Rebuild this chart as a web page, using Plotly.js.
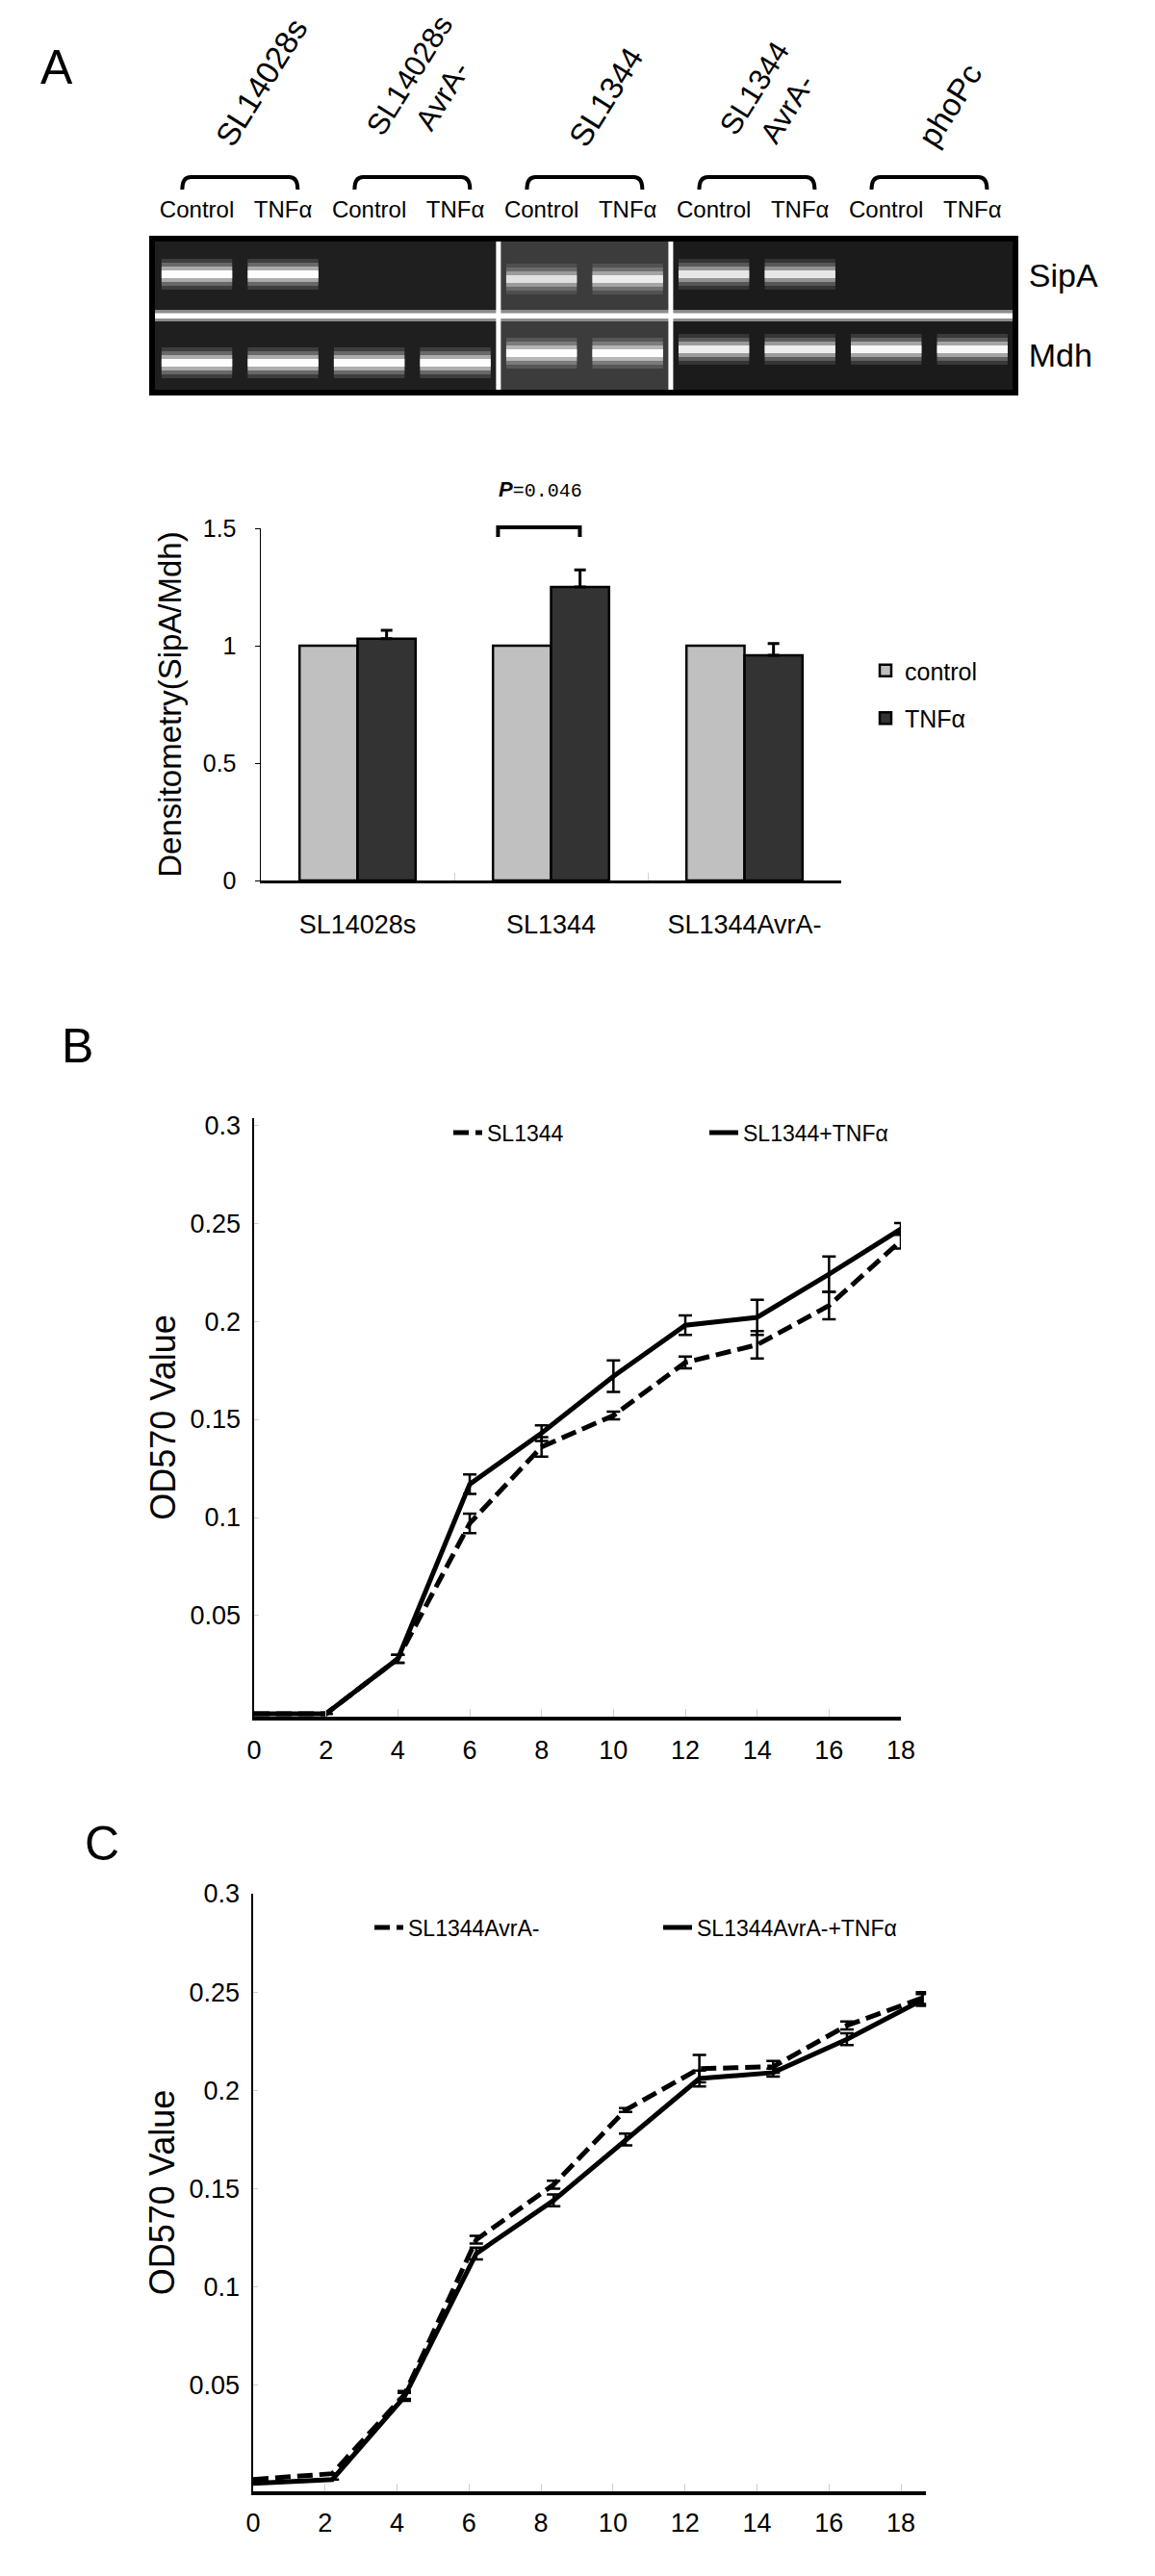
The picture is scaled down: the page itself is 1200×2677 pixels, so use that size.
<!DOCTYPE html>
<html><head><meta charset="utf-8">
<script src="https://cdn.plot.ly/plotly-3.0.1.min.js"></script>
<style>html,body{margin:0;padding:0;background:#fff}#chart{width:1200px;height:2677px}</style>
</head><body><div id="chart"></div>
<script>
// ---------- data ----------
const lanes=[1,2,3,4,5,6,7,8,9,10];
const laneLabels=['Control','TNFα','Control','TNFα','Control','TNFα','Control','TNFα','Control','TNFα'];
const strainLabels=['SL14028s','SL14028s<br>AvrA-','SL1344','SL1344<br>AvrA-','phoPc'];
const geneLabels=['SipA','Mdh'];
const sipaIntensity=[1,1,0,0,0.72,0.82,0.8,0.8,0,0];
const mdhIntensity=[1,1,1,1,1,1,0.85,0.85,0.95,0.95];
const sipaMigration=[37,37,37,37,42,42,37,37,37,37];
const mdhMigration=[129,129,129,129,119,119,115,115,115,115];

const densStrains=['SL14028s','SL1344','SL1344AvrA-'];
const densControl=[1,1,1];
const densTnf=[1.03,1.25,0.959];
const densTnfErr=[0.036,0.073,0.05];
const densTicks=[0,0.5,1,1.5];
const pText='0.046';

const hoursB=[0,2,4,6,8,10,12,14,16,18];
const odSL1344=[0,0,0.028,0.097,0.136,0.152,0.179,0.188,0.208,0.241];
const odSL1344Err=[null,null,0.002,0.005,0.005,0.002,0.003,0.007,0.007,0.004];
const odSL1344Tnf=[0,0,0.028,0.117,0.143,0.172,0.198,0.202,0.224,0.247];
const odSL1344TnfErr=[null,null,0.002,0.005,0.004,0.008,0.005,0.009,0.009,0.003];

const hoursC=[0,2.2,4.2,6.2,8.35,10.35,12.4,14.45,16.5,18.6];
const odAvrA=[0.002,0.005,0.045,0.124,0.152,0.19,0.211,0.212,0.233,0.247];
const odAvrAErr=[null,null,0.002,0.002,0.002,0.001,0.007,0.003,0.002,0.003];
const odAvrATnf=[0,0.002,0.044,0.117,0.144,0.175,0.206,0.209,0.226,0.246];
const odAvrATnfErr=[null,null,0.002,0.003,0.003,0.003,0.004,0.002,0.003,0.003];

const hourTicks=[0,2,4,6,8,10,12,14,16,18];
const odTicks=[0.05,0.1,0.15,0.2,0.25,0.3];

// ---------- helpers ----------
const W=1200,H=2677;
const X=p=>p/W, Y=p=>1-p/H;
const xd=(a,b)=>[X(a),X(b)];
const yd=(top,bot)=>[Y(bot),Y(top)];
const avg=a=>a.reduce((s,v)=>s+v,0)/a.length;
const ARIAL='"Liberation Sans",Arial,Helvetica,sans-serif';
const MONO='"Liberation Mono","DejaVu Sans Mono",monospace';

// gel geometry (pixels)
const GEL={l:158,r:1055,t:248,b:408};
const GEL_RANGE=[0.48,10.5];
const lanePx=l=>GEL.l+(l-GEL_RANGE[0])/(GEL_RANGE[1]-GEL_RANGE[0])*(GEL.r-GEL.l);

const traces=[];
// gel bands: soft halo layers + bright core
const layers=[{th:32,a:0.14},{th:24,a:0.22},{th:16,a:0.45},{th:8,a:0.97}];
function addBands(mig,inten){
  layers.forEach(L=>{
    traces.push({type:'bar',x:lanes,y:lanes.map(()=>L.th),base:mig.map(m=>m-L.th/2),
      width:0.82,offsetgroup:'gel',
      marker:{color:inten.map(v=>'rgba(255,255,255,'+(L.a*v).toFixed(3)+')'),line:{width:0}},
      xaxis:'x',yaxis:'y',showlegend:false,hoverinfo:'skip'});
  });
}
addBands(sipaMigration,sipaIntensity);
addBands(mdhMigration,mdhIntensity);

// densitometry bars
traces.push({type:'bar',x:densStrains,y:densControl,name:'control',
  marker:{color:'#c0c0c0',line:{color:'#000',width:2.5}},
  xaxis:'x2',yaxis:'y2',legend:'legend2',legendgroup:'a',hoverinfo:'y'});
traces.push({type:'bar',x:densStrains,y:densTnf,name:'TNFα',
  marker:{color:'#333333',line:{color:'#000',width:2.5}},
  error_y:{type:'data',symmetric:false,array:densTnfErr,arrayminus:densTnfErr.map(()=>0),color:'#000',thickness:3,width:6},
  xaxis:'x2',yaxis:'y2',legend:'legend2',legendgroup:'b',hoverinfo:'y'});

// growth curves B
const errStyle={type:'data',color:'#000',thickness:2.5,width:7};
traces.push({type:'scatter',mode:'lines',x:hoursB,y:odSL1344,name:'SL1344',
  line:{color:'#000',width:5,dash:'16px,7px'},error_y:Object.assign({array:odSL1344Err},errStyle),
  xaxis:'x3',yaxis:'y3',legend:'legend3',cliponaxis:false});
traces.push({type:'scatter',mode:'lines',x:hoursB,y:odSL1344Tnf,name:'SL1344+TNFα',
  line:{color:'#000',width:5},error_y:Object.assign({array:odSL1344TnfErr},errStyle),
  xaxis:'x3',yaxis:'y3',legend:'legend3',cliponaxis:false});
// growth curves C
traces.push({type:'scatter',mode:'lines',x:hoursC,y:odAvrA,name:'SL1344AvrA-',
  line:{color:'#000',width:5,dash:'16px,7px'},error_y:Object.assign({array:odAvrAErr},errStyle),
  xaxis:'x4',yaxis:'y4',legend:'legend4',cliponaxis:false});
traces.push({type:'scatter',mode:'lines',x:hoursC,y:odAvrATnf,name:'SL1344AvrA-+TNFα',
  line:{color:'#000',width:5},error_y:Object.assign({array:odAvrATnfErr},errStyle),
  xaxis:'x4',yaxis:'y4',legend:'legend4',cliponaxis:false});

// ---------- shapes ----------
const shapes=[];
const blocks=[[GEL_RANGE[0],4.5,'#1f1f1f'],[4.5,6.5,'#3c3c3c'],[6.5,GEL_RANGE[1],'#1b1b1b']];
blocks.forEach(b=>shapes.push({type:'rect',xref:'x',yref:'y',x0:b[0],x1:b[1],y0:0,y1:160,fillcolor:b[2],line:{width:0},layer:'below'}));
shapes.push({type:'rect',xref:'x',yref:'y',x0:GEL_RANGE[0],x1:GEL_RANGE[1],y0:74,y1:86,fillcolor:'#8c8c8c',line:{width:0},layer:'above'});
shapes.push({type:'rect',xref:'x',yref:'y',x0:GEL_RANGE[0],x1:GEL_RANGE[1],y0:77.5,y1:83,fillcolor:'#ffffff',line:{width:0},layer:'above'});
[4.5,6.5].forEach(v=>shapes.push({type:'line',xref:'x',yref:'y',x0:v,x1:v,y0:0,y1:160,line:{color:'#fff',width:5},layer:'above'}));
shapes.push({type:'rect',xref:'paper',yref:'paper',x0:X(GEL.l),x1:X(GEL.r),y0:Y(GEL.b),y1:Y(GEL.t),line:{color:'#000',width:6},fillcolor:'rgba(0,0,0,0)',layer:'above'});
const pairCenters=[1.5,3.5,5.5,7.5,9.5];
pairCenters.forEach(c=>{
  const cx=lanePx(c), x0=X(cx-60), x1=X(cx+60), yt=Y(184), yb=Y(197), r=X(9);
  shapes.push({type:'path',xref:'paper',yref:'paper',
    path:`M${x0},${yb} Q${x0},${yt} ${x0+r},${yt} L${x1-r},${yt} Q${x1},${yt} ${x1},${yb}`,
    line:{color:'#000',width:4}});
});
const BAR={l:271,r:874,t:549,b:915};
const catPx=(i,off)=>BAR.l+(i+0.5+off)/densStrains.length*(BAR.r-BAR.l);
const valPx=v=>BAR.b-v/1.5*(BAR.b-BAR.t);
{
  const xa=X(catPx(1,-0.274)), xb=X(catPx(1,0.149)), yt=Y(valPx(1.5)-1), yb=Y(valPx(1.5)+9);
  shapes.push({type:'path',xref:'paper',yref:'paper',path:`M${xa},${yb} L${xa},${yt} L${xb},${yt} L${xb},${yb}`,line:{color:'#000',width:4}});
}

// ---------- annotations ----------
const ann=[];
const letter=(t,x,y)=>({text:t,x:X(x),y:Y(y),xref:'paper',yref:'paper',xanchor:'center',yanchor:'middle',showarrow:false,font:{family:ARIAL,size:50}});
ann.push(letter('A',59,70));
ann.push(letter('B',80,1087));
ann.push(letter('C',106,1916));
strainLabels.forEach((s,i)=>{
  const twoLine=s.indexOf('<br>')>=0;
  ann.push({text:s,x:X(lanePx(pairCenters[i])+(twoLine?14:22)),y:Y(twoLine?170:161),xref:'paper',yref:'paper',
    xanchor:'center',yanchor:'bottom',showarrow:false,textangle:-58,align:'center',
    font:{family:ARIAL,size:twoLine?31:33}});
});
ann.push({text:'<b><i>P</i></b><span style="font-family:'+MONO.replace(/"/g,"'")+';font-size:20px">='+pText+'</span>',
  x:X(561),y:Y(509),xref:'paper',yref:'paper',xanchor:'center',yanchor:'middle',showarrow:false,font:{family:ARIAL,size:22}});

// ---------- layout ----------
const base={showline:true,linecolor:'#000',showgrid:false,zeroline:false,fixedrange:true};
const pxPerHour=(936-263)/18;
const layout={
  width:W,height:H,margin:{l:0,r:0,t:0,b:0},paper_bgcolor:'#fff',plot_bgcolor:'rgba(0,0,0,0)',
  font:{family:ARIAL,color:'#000'},
  barmode:'group',bargap:0.4,bargroupgap:0,
  showlegend:true,
  xaxis:{domain:xd(GEL.l,GEL.r),range:GEL_RANGE,anchor:'y',side:'top',tickmode:'array',tickvals:lanes,ticktext:laneLabels,
    ticks:'outside',ticklen:11,tickcolor:'rgba(0,0,0,0)',tickfont:{family:ARIAL,size:24},showgrid:false,zeroline:false,showline:false,fixedrange:true},
  yaxis:{domain:yd(GEL.t,GEL.b),range:[160,0],anchor:'x',side:'right',tickmode:'array',
    tickvals:[avg(sipaMigration),avg(mdhMigration)],ticktext:geneLabels,ticks:'outside',ticklen:6,tickcolor:'rgba(0,0,0,0)',
    tickfont:{family:ARIAL,size:34},showgrid:false,zeroline:false,showline:false,fixedrange:true},
  xaxis2:Object.assign({},base,{domain:xd(BAR.l,BAR.r),anchor:'y2',type:'category',linewidth:3,
    ticks:'inside',tickson:'boundaries',ticklen:8,tickcolor:'#d0d0d0',tickfont:{family:ARIAL,size:27},ticklabelstandoff:20}),
  yaxis2:Object.assign({},base,{domain:yd(BAR.t,BAR.b),anchor:'x2',range:[0,1.5],linewidth:1.5,tickmode:'array',
    tickvals:densTicks,ticktext:densTicks.map(String),ticks:'outside',ticklen:5,tickcolor:'#000',
    tickfont:{family:ARIAL,size:25},ticklabelstandoff:14,
    title:{text:'Densitometry(SipA/Mdh)\u00a0\u00a0\u00a0',font:{family:ARIAL,size:33},standoff:12}}),
  xaxis3:Object.assign({},base,{domain:xd(264,936),anchor:'y3',range:[0,18],linewidth:3.5,tickmode:'array',
    tickvals:hourTicks,ticks:'inside',ticklen:8,tickcolor:'#cfcfcf',tickfont:{family:ARIAL,size:27},ticklabelstandoff:8}),
  yaxis3:Object.assign({},base,{domain:yd(1162,1784),anchor:'x3',range:[-0.0015,0.3035],linewidth:2.5,tickmode:'array',
    tickvals:odTicks,ticktext:odTicks.map(String),ticks:'inside',ticklen:5,tickcolor:'#cfcfcf',
    tickfont:{family:ARIAL,size:27},ticklabelstandoff:6,
    title:{text:'OD570 Value',font:{family:ARIAL,size:36},standoff:4}}),
  xaxis4:Object.assign({},base,{domain:xd(263,263+pxPerHour*18.7),anchor:'y4',range:[0,18.7],linewidth:3.5,tickmode:'array',
    tickvals:hourTicks,ticks:'inside',ticklen:8,tickcolor:'#cfcfcf',tickfont:{family:ARIAL,size:27},ticklabelstandoff:6}),
  yaxis4:Object.assign({},base,{domain:yd(1968,2589),anchor:'x4',range:[-0.004,0.3],linewidth:2.5,tickmode:'array',
    tickvals:odTicks,ticktext:odTicks.map(String),ticks:'inside',ticklen:5,tickcolor:'#cfcfcf',
    tickfont:{family:ARIAL,size:27},ticklabelstandoff:6,
    title:{text:'OD570 Value',font:{family:ARIAL,size:36},standoff:4}}),
  legend2:{x:X(900),y:Y(674),xanchor:'left',yanchor:'top',orientation:'v',font:{family:ARIAL,size:25},
    bgcolor:'rgba(0,0,0,0)',tracegroupgap:14},
  legend3:{x:X(466),y:Y(1177),xanchor:'left',yanchor:'middle',orientation:'h',font:{family:ARIAL,size:23},
    bgcolor:'rgba(0,0,0,0)',entrywidth:221,entrywidthmode:'pixels'},
  legend4:{x:X(384),y:Y(2003),xanchor:'left',yanchor:'middle',orientation:'h',font:{family:ARIAL,size:23},
    bgcolor:'rgba(0,0,0,0)',entrywidth:255,entrywidthmode:'pixels'},
  shapes:shapes,
  annotations:ann
};
Plotly.newPlot('chart',traces,layout,{staticPlot:true,displayModeBar:false});
</script>
</body></html>
